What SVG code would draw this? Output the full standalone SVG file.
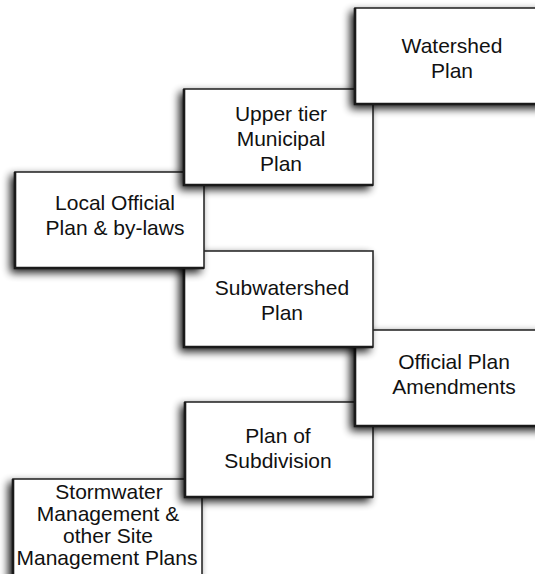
<svg xmlns="http://www.w3.org/2000/svg" width="535" height="574" viewBox="0 0 535 574">
  <defs>
    <filter id="shadow" x="-20%" y="-20%" width="140%" height="150%">
      <feGaussianBlur in="SourceAlpha" stdDeviation="4"/>
      <feOffset dx="-4" dy="4" result="blur"/>
      <feComponentTransfer><feFuncA type="linear" slope="0.9"/></feComponentTransfer>
      <feMerge><feMergeNode/><feMergeNode in="SourceGraphic"/></feMerge>
    </filter>
  </defs>
  <style>
    .box { fill: #ffffff; stroke: #2a2a2a; stroke-width: 1.6; filter: url(#shadow); }
    .edge { fill: none; stroke: #1a1a1a; stroke-width: 2.6; }
    text { font-family: "Liberation Sans", Arial, Helvetica, sans-serif; font-size: 21px; fill: #111; text-anchor: middle; }
  </style>
  <rect width="535" height="574" fill="#ffffff"/>

  <!-- lowest step first so each higher step overlaps the one below it -->
  <g id="stormwater">
    <rect class="box" x="13" y="479" width="189" height="110"/>
    <path class="edge" d="M13,479 V589"/>
    <text x="109" y="499">Stormwater</text>
    <text x="108" y="521">Management &amp;</text>
    <text x="108" y="543">other Site</text>
    <text x="107" y="565">Management Plans</text>
  </g>

  <g id="subdivision">
    <rect class="box" x="185" y="402" width="188" height="95"/>
    <path class="edge" d="M185,402 V497 H373"/>
    <text x="278" y="443">Plan of</text>
    <text x="278" y="468">Subdivision</text>
  </g>

  <g id="op-amendments">
    <rect class="box" x="355" y="330" width="195" height="96"/>
    <path class="edge" d="M355,330 V426 H550"/>
    <text x="454" y="369">Official Plan</text>
    <text x="454" y="394">Amendments</text>
  </g>

  <g id="subwatershed">
    <rect class="box" x="184" y="251" width="189" height="96"/>
    <path class="edge" d="M184,251 V347 H373"/>
    <text x="282" y="295">Subwatershed</text>
    <text x="282" y="320">Plan</text>
  </g>

  <g id="local-official">
    <rect class="box" x="15" y="172" width="189" height="96"/>
    <path class="edge" d="M15,172 V268 H204"/>
    <text x="115" y="210">Local Official</text>
    <text x="115" y="235">Plan &amp; by-laws</text>
  </g>

  <g id="upper-tier">
    <rect class="box" x="184" y="89" width="189" height="96"/>
    <path class="edge" d="M184,89 V185 H373"/>
    <text x="281" y="121">Upper tier</text>
    <text x="281" y="146">Municipal</text>
    <text x="281" y="171">Plan</text>
  </g>

  <g id="watershed">
    <rect class="box" x="355" y="8" width="195" height="96"/>
    <path class="edge" d="M355,8 V104 H550"/>
    <text x="452" y="53">Watershed</text>
    <text x="452" y="78">Plan</text>
  </g>

  <g id="connectors"></g>
</svg>
